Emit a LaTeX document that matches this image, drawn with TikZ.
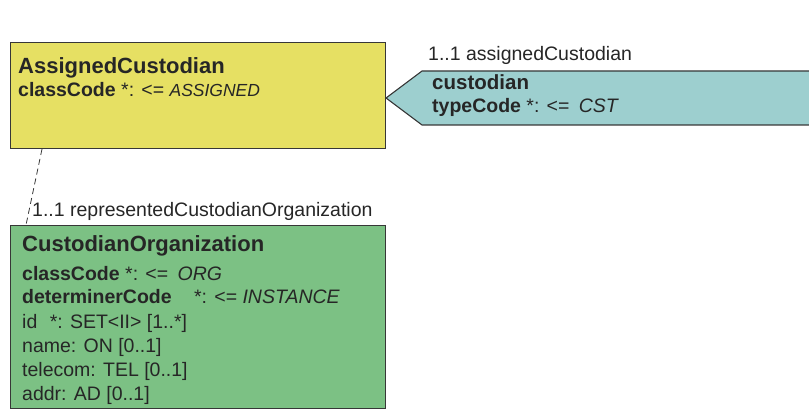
\documentclass[tikz,border=0pt]{standalone}
\usepackage{fontspec}
\setmainfont{Liberation Sans}
\definecolor{yellowbox}{RGB}{230,224,99}
\definecolor{tealbox}{RGB}{157,207,207}
\definecolor{greenbox}{RGB}{124,193,132}
\definecolor{edge}{RGB}{55,55,55}
\begin{document}
\begin{tikzpicture}[x=1pt,y=-1pt,
  box/.style={draw=edge,line width=1.1pt,rectangle,inner sep=0pt,anchor=north west},
  txt/.style={anchor=base west,inner sep=0pt,text=black!85,font=\fontsize{19.5}{23}\selectfont},
  ttl/.style={anchor=base west,inner sep=0pt,text=black!85,font=\fontsize{22}{26}\selectfont\bfseries},
  conn/.style={draw=edge,line width=0.8pt,dash pattern=on 6pt off 4pt}]
\useasboundingbox (0,0) rectangle (809,414);
% boxes
\node[box,fill=yellowbox,minimum width=375pt,minimum height=106pt] (ac) at (10,42) {};
\node[box,fill=greenbox,minimum width=375pt,minimum height=183pt] (co) at (10,225) {};
% custodian participation shape
\coordinate (tip) at (386,98);
\fill[tealbox] (812,71) -- (422,71) -- (tip) -- (422,125) -- (812,125) -- cycle;
\draw[edge,line width=1.1pt] (812,71) -- (422,71) -- (tip) -- (422,125) -- (812,125);
% connector
\draw[conn] ([xshift=32pt]ac.south west) -- ([xshift=16pt]co.north west);
% texts
\node[ttl] (t1) at (18,74) {AssignedCustodian};
\node[txt] (t2) at (18,97) {\textbf{classCode} *: <= {\fontsize{17.5}{21}\selectfont\textit{ASSIGNED}}};
\node[txt] (l1) at (428,61) {1..1 assignedCustodian};
\node[txt,font=\fontsize{20.5}{24}\selectfont\bfseries] (t3) at (432,90) {custodian};
\node[txt] (t4) at (432,113) {\textbf{typeCode} *: <= \hspace{4pt}\textit{CST}};
\node[txt] (l2) at (32,217) {1..1 representedCustodianOrganization};
\node[ttl] (t5) at (22,252) {CustodianOrganization};
\node[txt] (t6) at (22,280) {\textbf{classCode} *: <= \hspace{4pt}\textit{ORG}};
\node[txt] (t7) at (22,304) {\textbf{determinerCode}\hspace{17pt} *: <= \textit{INSTANCE}};
\node[txt] (t8) at (22,328) {id\hspace{7pt} *: SET<II> [1..*]};
\node[txt] (t9) at (22,352) {name: ON [0..1]};
\node[txt] (t10) at (22,376) {telecom: TEL [0..1]};
\node[txt] (t11) at (22,400) {addr: AD [0..1]};
\end{tikzpicture}
\end{document}
